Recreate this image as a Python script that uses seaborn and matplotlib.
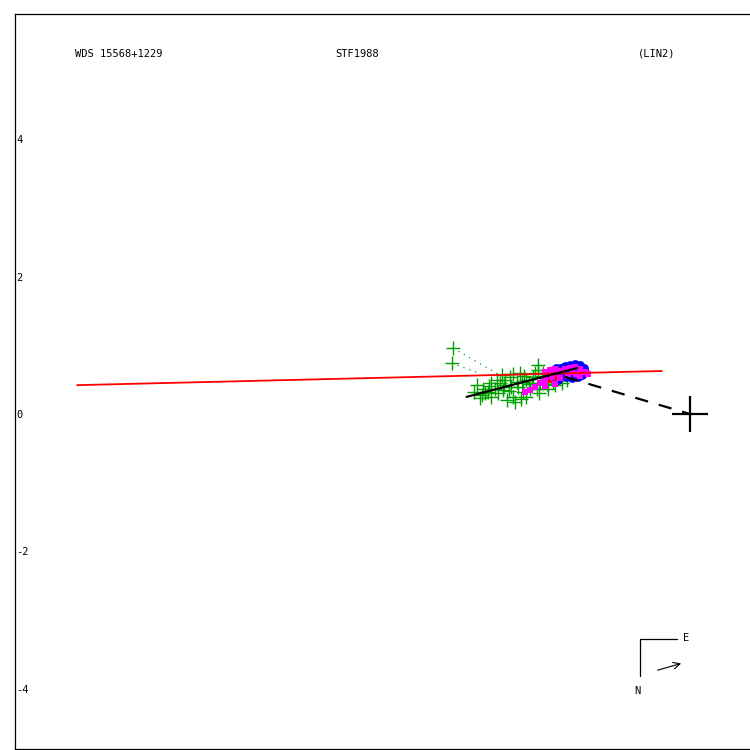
import matplotlib
matplotlib.use("Agg")
import matplotlib.pyplot as plt
import seaborn as sns
import numpy as np

# ---- data (arcsec) ----
orbit_x = [-8.92, -0.41]
orbit_y = [0.42, 0.626]

node_x = [-3.25, -1.64]
node_y = [0.25, 0.67]

peri_x = [-1.82, 0.0]
peri_y = [0.54, 0.0]

green_x = [-3.10, -3.03, -2.94, -2.84, -2.77, -2.69, -2.62, -2.57, -2.50, -2.43,
           -2.38, -2.33, -2.28, -2.21, -2.18, -2.11, -2.04, -1.99, -1.92, -1.87,
           -2.67, -2.89, -3.01, -2.47, -2.23, -2.14, -1.94, -2.74, -2.55, -2.38,
           -2.81, -3.06, -2.06, -1.79, -2.60, -2.30, -2.21, -2.45, -2.89, -2.72,
           -2.98, -2.92, -2.80, -2.70, -2.63, -2.52, -2.42, -2.35, -2.26, -2.16,
           -2.08, -2.02, -1.96, -2.20, -2.46, -3.14, -1.84, -2.58,
           -3.45, -3.47]
green_y = [0.42, 0.28, 0.32, 0.37, 0.45, 0.49, 0.54, 0.25, 0.40, 0.32,
           0.49, 0.37, 0.54, 0.64, 0.45, 0.52, 0.59, 0.47, 0.54, 0.45,
           0.20, 0.25, 0.37, 0.59, 0.37, 0.59, 0.62, 0.57, 0.18, 0.25,
           0.49, 0.23, 0.37, 0.49, 0.40, 0.45, 0.71, 0.47, 0.45, 0.35,
           0.30, 0.41, 0.30, 0.42, 0.33, 0.47, 0.56, 0.43, 0.60, 0.55,
           0.44, 0.53, 0.42, 0.30, 0.22, 0.32, 0.58, 0.58,
           0.96, 0.74]
outlier_pred_x = [-2.81, -3.06]
outlier_pred_y = [0.59, 0.59]

blue_x = [-1.89, -1.82, -1.75, -1.67, -1.60, -1.54, -1.53, -1.57, -1.63, -1.72,
          -1.80, -1.89, -1.97, -2.01, -1.95, -1.78, -1.67, -1.60, -1.85, -1.75,
          -2.07, -1.99, -1.92]
blue_y = [0.67, 0.70, 0.71, 0.73, 0.71, 0.67, 0.61, 0.57, 0.54, 0.52,
          0.54, 0.55, 0.58, 0.63, 0.67, 0.64, 0.64, 0.63, 0.61, 0.58,
          0.57, 0.52, 0.49]

magenta_x = [-2.11, -2.04, -1.97, -1.89, -1.82, -1.75, -1.67, -1.60, -1.53, -1.48,
             -1.66, -1.78, -1.89, -2.01, -2.11, -2.18, -2.26, -2.33, -2.40, -2.11,
             -1.97, -1.60, -1.72]
magenta_y = [0.61, 0.64, 0.66, 0.63, 0.66, 0.67, 0.68, 0.66, 0.61, 0.58,
             0.58, 0.55, 0.52, 0.54, 0.49, 0.45, 0.39, 0.35, 0.32, 0.41,
             0.44, 0.55, 0.61]

red_x = [-2.07, -2.01, -1.95, -2.04, -1.92, -1.98]
red_y = [0.61, 0.55, 0.64, 0.49, 0.52, 0.58]

ytick_vals = [-4, -2, 0, 2, 4]
ytick_labels = ["-4", "-2", "0", "2", "4"]

title_left = "WDS 15568+1229"
title_mid = "STF1988"
title_right = "(LIN2)"

# ---- figure ----
sns.set_theme(style="white")
plt.rcParams["font.family"] = ["DejaVu Sans Mono", "DejaVu Sans"]
plt.rcParams["axes.unicode_minus"] = False
plt.rcParams["text.color"] = "black"
plt.rcParams["ytick.color"] = "black"
plt.rcParams["ytick.labelcolor"] = "black"

fig = plt.figure(figsize=(7.5, 7.5), dpi=100)
ax = fig.add_axes([15 / 750, 1 / 750, 1.0, 735 / 750])
ax.set_xlim(-9.825, 1.092)
ax.set_ylim(-4.876, 5.822)

for s in ax.spines.values():
    s.set_color("black")
    s.set_linewidth(0.9)

# O-C lines for outliers
for gx, gy, px, py in zip(green_x[-2:], green_y[-2:], outlier_pred_x, outlier_pred_y):
    ax.plot([gx, px], [gy, py], color="#00A000", lw=0.9, ls=(0, (1, 4)), zorder=2)

sns.scatterplot(x=green_x, y=green_y, marker="+", s=95, color="#00A000",
                linewidth=1.0, ax=ax, zorder=3)
sns.scatterplot(x=blue_x, y=blue_y, marker="o", s=40, color="#0000FF",
                edgecolor="#0000FF", linewidth=0, ax=ax, zorder=4)
sns.scatterplot(x=red_x, y=red_y, marker="s", s=16, color="#FF0000",
                edgecolor="#FF0000", linewidth=0, ax=ax, zorder=5)
sns.scatterplot(x=magenta_x, y=magenta_y, marker="s", s=22, color="#FF00FF",
                edgecolor="#FF00FF", linewidth=0, ax=ax, zorder=6)

sns.lineplot(x=orbit_x, y=orbit_y, color="#FF0000", lw=1.3, ax=ax, zorder=6,
             sort=False, estimator=None)
sns.lineplot(x=node_x, y=node_y, color="black", lw=1.6, ax=ax, zorder=7,
             sort=False, estimator=None)
ax.plot(peri_x, peri_y, color="black", lw=1.6, ls=(0, (6, 5)), zorder=7)

sns.scatterplot(x=[0.0], y=[0.0], marker="+", s=700, color="black",
                linewidth=1.6, ax=ax, zorder=8)

# ticks
ax.set_xticks([])
ax.set_yticks(ytick_vals)
ax.set_yticklabels(ytick_labels, fontsize=7.5, color="black")
ax.tick_params(axis="y", length=0, pad=-1)
for lab in ax.get_yticklabels():
    lab.set_ha("left")

# titles
ax.text(-8.95, 5.24, title_left, fontsize=7.5, ha="left", va="center", color="black")
ax.text(-5.17, 5.24, title_mid, fontsize=7.5, ha="left", va="center", color="black")
ax.text(-0.76, 5.24, title_right, fontsize=7.5, ha="left", va="center", color="black")

# compass
cx, cy = -0.73, -3.275
ax.plot([cx, cx + 0.54], [cy, cy], color="black", lw=0.9)
ax.plot([cx, cx], [cy, cy - 0.54], color="black", lw=0.9)
ax.text(cx + 0.67, cy + 0.01, "E", fontsize=7.5, ha="center", va="center", color="black")
ax.text(cx - 0.04, cy - 0.75, "N", fontsize=7.5, ha="center", va="center", color="black")
ax.annotate("", xy=(-0.09, -3.62), xytext=(-0.51, -3.74),
            arrowprops=dict(arrowstyle="->", lw=0.8, color="black"))

ax.set_xlabel("")
ax.set_ylabel("")
fig.savefig("out.png", dpi=100)
